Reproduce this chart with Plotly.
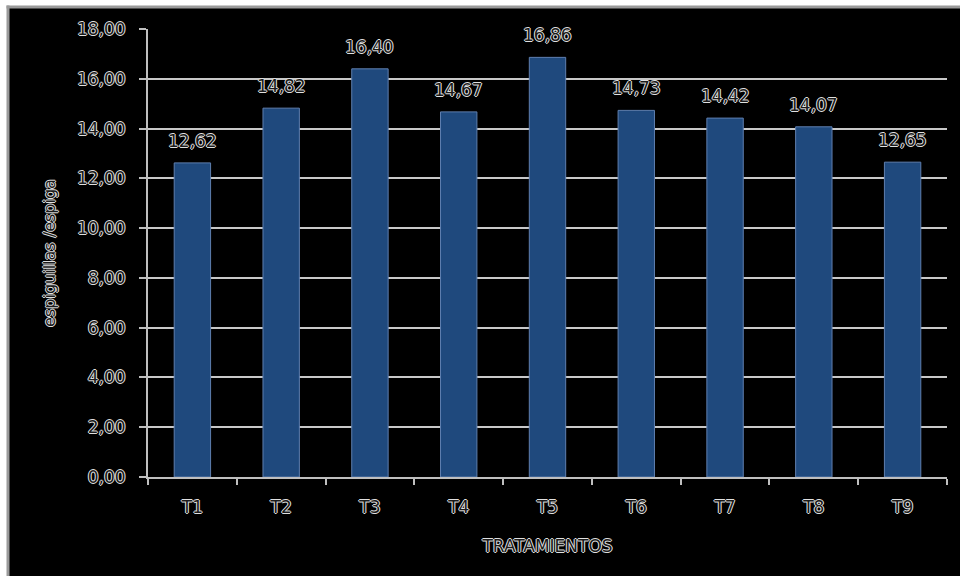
import plotly.graph_objects as go

# Tratamientos y número medio de espiguillas por espiga
tratamientos = ["T1", "T2", "T3", "T4", "T5", "T6", "T7", "T8", "T9"]
espiguillas = [12.62, 14.82, 16.40, 14.67, 16.86, 14.73, 14.42, 14.07, 12.65]
y_ticks = [0, 2, 4, 6, 8, 10, 12, 14, 16, 18]

FONT = "DejaVu Sans"
TXT = "#1a1a1a"
OUTLINE = "-1px 0 #e0e0e0, 1px 0 #e0e0e0, 0 -1px #e0e0e0, 0 1px #e0e0e0"
font_lbl = dict(family=FONT, size=17, color=TXT, shadow=OUTLINE)

W, H = 960, 576
ML, MR, MT, MB = 148, 13, 29, 99
PW, PH = W - ML - MR, H - MT - MB


def px_x(p):
    return (p - ML) / PW


def px_y(p):
    return (H - MB - p) / PH


fig = go.Figure(
    go.Bar(
        x=tratamientos,
        y=espiguillas,
        marker=dict(color="#1F497D", line=dict(color="#5F7FAF", width=1)),
        width=0.41,
        hoverinfo="x+y",
    )
)

# etiquetas de valor sobre cada barra
for t, v in zip(tratamientos, espiguillas):
    fig.add_annotation(
        x=t, y=v, text=f"{v:.2f}".replace(".", ","),
        showarrow=False, yanchor="bottom", yshift=10,
        font=font_lbl,
    )

fig.update_layout(
    width=W,
    height=H,
    margin=dict(l=ML, r=MR, t=MT, b=MB),
    paper_bgcolor="black",
    plot_bgcolor="black",
    separators=",.",
    showlegend=False,
    shapes=[
        # franja blanca superior e izquierda con borde gris del marco
        dict(type="rect", xref="paper", yref="paper", layer="below",
             x0=px_x(-10), x1=px_x(W + 10), y0=px_y(6), y1=px_y(-10),
             fillcolor="white", line_width=0),
        dict(type="rect", xref="paper", yref="paper", layer="below",
             x0=px_x(-10), x1=px_x(7), y0=px_y(H + 10), y1=px_y(-10),
             fillcolor="white", line_width=0),
        dict(type="line", xref="paper", yref="paper", layer="below",
             x0=px_x(6.5), x1=px_x(W + 10), y0=px_y(7), y1=px_y(7),
             line=dict(color="#9a9a9a", width=3)),
        dict(type="line", xref="paper", yref="paper", layer="below",
             x0=px_x(8), x1=px_x(8), y0=px_y(5.5), y1=px_y(H + 10),
             line=dict(color="#9a9a9a", width=3)),
    ],
)

fig.update_xaxes(
    showgrid=False,
    showline=True,
    linecolor="#bfbfbf",
    linewidth=2,
    ticks="outside",
    tickson="boundaries",
    ticklen=6,
    tickcolor="#bfbfbf",
    tickwidth=2,
    tickfont=font_lbl,
    ticklabelstandoff=14,
    title=dict(text="TRATAMIENTOS", font=font_lbl, standoff=24),
)

fig.update_yaxes(
    range=[0, 18],
    tickvals=y_ticks,
    tickformat=".2f",
    showgrid=True,
    gridcolor="#c8c8c8",
    gridwidth=2,
    zeroline=False,
    showline=True,
    linecolor="#bfbfbf",
    linewidth=2,
    ticks="outside",
    ticklen=7,
    tickcolor="#bfbfbf",
    tickwidth=2,
    tickfont=font_lbl,
    ticklabelstandoff=10,
    title=dict(text="espiguillas /espiga",
               font=dict(family=FONT, size=16, color=TXT, shadow=OUTLINE),
               standoff=17),
)

fig.write_html("out.html")
